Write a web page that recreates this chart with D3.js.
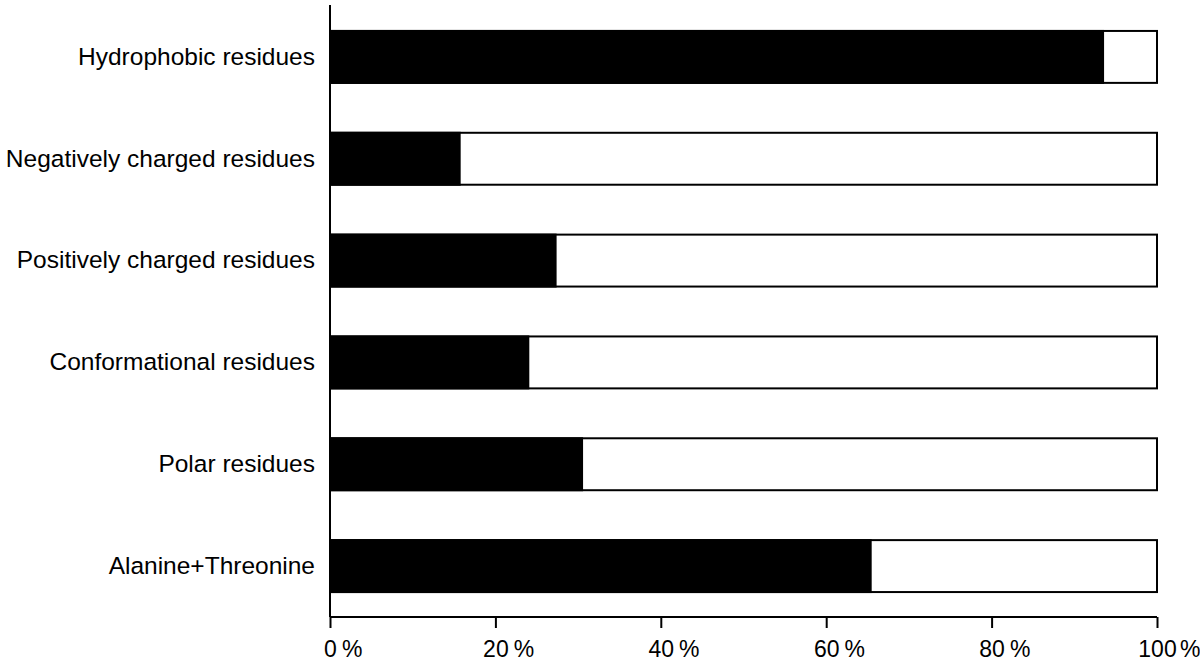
<!DOCTYPE html>
<html>
<head>
<meta charset="utf-8">
<script src="https://cdn.jsdelivr.net/npm/d3@7"></script>
<style>
  body { margin: 0; background: #fff; }
  svg { display: block; }
  text { font-family: "Liberation Sans", Arial, sans-serif; fill: #000; }
</style>
</head>
<body>
<svg width="1200" height="662"></svg>
<script>
// data (percent of residues, black part)
const categories = [
  "Hydrophobic residues",
  "Negatively charged residues",
  "Positively charged residues",
  "Conformational residues",
  "Polar residues",
  "Alanine+Threonine"
];
const values = [93.6, 15.8, 27.4, 24.1, 30.6, 65.5];
const tickValues = [0, 20, 40, 60, 80, 100];

const svg = d3.select('svg');
const W = 1200;
const mLeft = 330, mRight = 1157, mTop = 6, mBottom = 617;

const x = d3.scaleLinear().domain([0, 100]).range([mLeft, mRight]);
const y = d3.scaleBand().domain(categories).range([mTop, mBottom])
  .paddingInner(0.49)
  .paddingOuter(0.245);

// white full bars (100%)
svg.selectAll('.full')
  .data(categories)
  .enter()
  .append('rect')
  .attr('class', 'full')
  .attr('x', x(0))
  .attr('y', d => y(d))
  .attr('width', x(100) - x(0))
  .attr('height', y.bandwidth())
  .attr('fill', '#fff')
  .attr('stroke', '#000')
  .attr('stroke-width', 2);

// black part
svg.selectAll('.part')
  .data(values)
  .enter()
  .append('rect')
  .attr('class', 'part')
  .attr('x', x(0))
  .attr('y', (d, i) => y(categories[i]) - 1)
  .attr('width', d => x(d) - x(0))
  .attr('height', y.bandwidth() + 2)
  .attr('fill', '#000');

// x axis : number centred on the tick, "%" following it
const xAxis = svg.append('g')
  .attr('transform', `translate(0, ${mBottom})`)
  .call(d3.axisBottom(x)
    .tickValues(tickValues)
    .tickFormat(d => d)
    .tickSize(11)
    .tickPadding(0));
xAxis.select('.domain')
  .attr('d', `M${mLeft},0H${mRight}`)
  .attr('stroke-width', 2);
xAxis.selectAll('.tick line').attr('stroke-width', 2);
xAxis.selectAll('.tick text')
  .attr('y', 40)
  .attr('dy', null)
  .style('font-size', '23px')
  .style('font-family', '"Liberation Sans", Arial, sans-serif')
  .attr('fill', '#000');

xAxis.selectAll('.tick').each(function (d) {
  const tick = d3.select(this);
  const numW = tick.select('text').node().getComputedTextLength();
  const pct = tick.append('text')
    .attr('y', 40)
    .attr('text-anchor', 'start')
    .attr('fill', '#000')
    .style('font-size', '23px')
    .style('font-family', '"Liberation Sans", Arial, sans-serif')
    .text('%');
  const pctW = pct.node().getComputedTextLength();
  // keep the sign inside the picture at the right edge
  const px = Math.min(numW / 2 + 5, W - x(d) - pctW);
  pct.attr('x', px);
});

// y axis (no ticks)
const yAxis = svg.append('g')
  .attr('transform', `translate(${mLeft}, 0)`)
  .call(d3.axisLeft(y).tickSize(0).tickPadding(15));
yAxis.select('.domain')
  .attr('d', `M0,5V${mBottom}`)
  .attr('stroke-width', 2);
yAxis.selectAll('.tick text')
  .style('font-size', '24.5px')
  .style('font-family', '"Liberation Sans", Arial, sans-serif')
  .attr('fill', '#000');
</script>
</body>
</html>
